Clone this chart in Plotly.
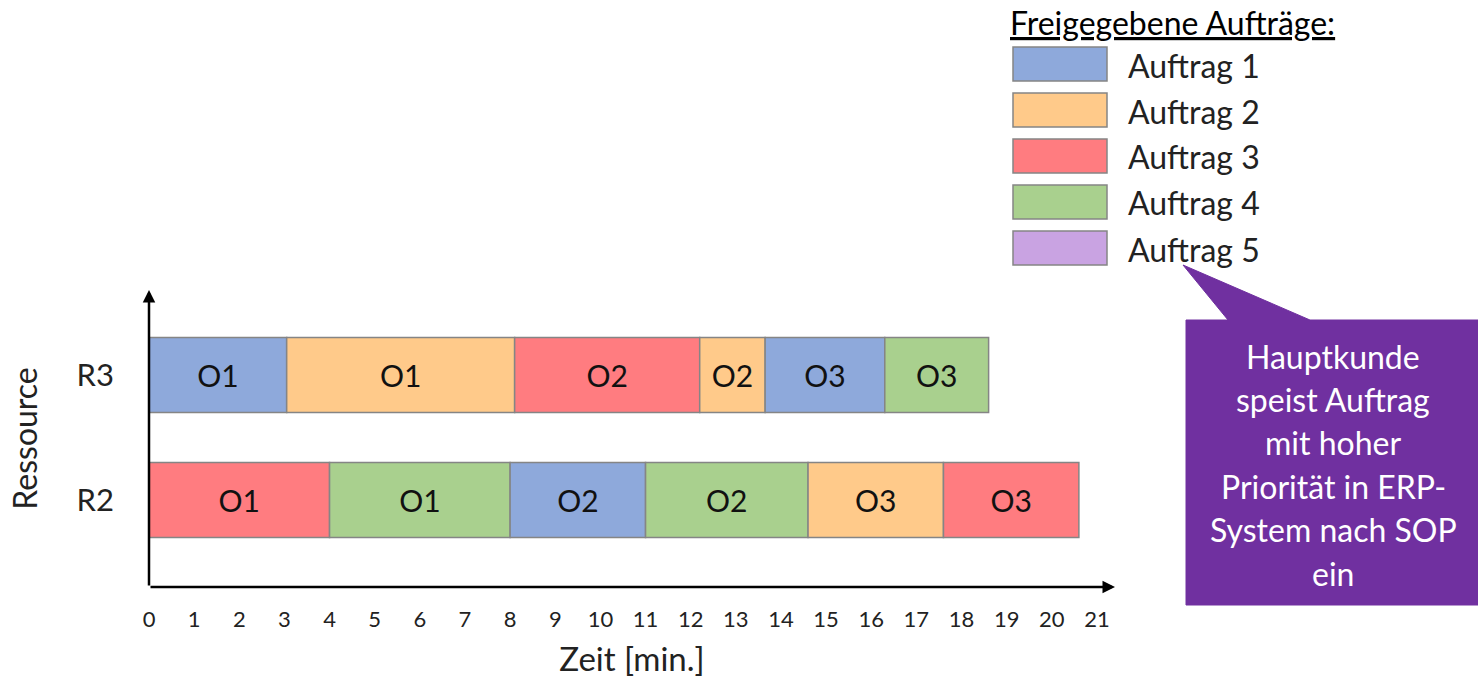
import plotly.graph_objects as go

# ---- data -----------------------------------------------------------------
orders = ["Auftrag 1", "Auftrag 2", "Auftrag 3", "Auftrag 4", "Auftrag 5"]
order_colors = ["#8EA9DB", "#FFCA8A", "#FF7C80", "#A9D08E", "#C9A3E2"]

# schedule per resource: (order index, operation label, start [min], end [min])
r3_order = [0, 1, 2, 1, 0, 3]
r3_ops = ["O1", "O1", "O2", "O2", "O3", "O3"]
r3_start = [0, 3.05, 8.1, 12.2, 13.65, 16.3]
r3_end = [3.05, 8.1, 12.2, 13.65, 16.3, 18.6]

r2_order = [2, 3, 0, 3, 1, 2]
r2_ops = ["O1", "O1", "O2", "O2", "O3", "O3"]
r2_start = [0, 4, 8, 11, 14.6, 17.6]
r2_end = [4, 8, 11, 14.6, 17.6, 20.6]

resources = ["R2", "R3"]
time_ticks = list(range(0, 22))

legend_title = "Freigegebene Aufträge:"
callout_lines = ["Hauptkunde", "speist Auftrag", "mit hoher",
                 "Priorität in ERP-", "System nach SOP", "ein"]

# ---- layout geometry (pixels) ---------------------------------------------
W, H = 1478, 679
PL, PR, PT, PB = 149, 1115, 290, 587  # plot area edges
FONT = "Lato, 'Open Sans', sans-serif"


def px_x(p):
    return (p - PL) / (PR - PL)


def px_y(p):
    return (PB - p) / (PB - PT)


fig = go.Figure()

segments = []
for res, ords, ops, st, en in [("R3", r3_order, r3_ops, r3_start, r3_end),
                               ("R2", r2_order, r2_ops, r2_start, r2_end)]:
    for o, op, s, e in zip(ords, ops, st, en):
        segments.append((res, o, op, s, e))

for res, o, op, s, e in segments:
    fig.add_trace(go.Bar(
        y=[res], x=[e - s], base=[s], orientation="h", width=0.6,
        marker=dict(color=order_colors[o], line=dict(color="#858585", width=1.5)),
        text=[op], textposition="inside", insidetextanchor="middle",
        textfont=dict(size=30, color="#111111", family=FONT),
        constraintext="none", showlegend=False, hoverinfo="skip",
    ))

x_max = 21.4
y_lo, y_hi = -0.696, 1.68

# axis arrows
fig.add_annotation(x=x_max, y=y_lo, ax=0, ay=y_lo, xref="x", yref="y",
                   axref="x", ayref="y", text="", showarrow=True,
                   arrowhead=2, arrowsize=1, arrowwidth=2.5, arrowcolor="black")
fig.add_annotation(x=0, y=y_hi, ax=0, ay=y_lo, xref="x", yref="y",
                   axref="x", ayref="y", text="", showarrow=True,
                   arrowhead=2, arrowsize=1, arrowwidth=2.5, arrowcolor="black")

# legend block
fig.add_annotation(x=px_x(1008), y=px_y(22), xref="paper", yref="paper",
                   text="<u>" + legend_title + "</u>", showarrow=False,
                   xanchor="left", yanchor="middle",
                   font=dict(size=32, color="black", family=FONT))
for i, (name, col) in enumerate(zip(orders, order_colors)):
    top = 47 + i * 46
    fig.add_shape(type="rect", xref="paper", yref="paper",
                  x0=px_x(1013), x1=px_x(1107), y0=px_y(top + 34), y1=px_y(top),
                  fillcolor=col, line=dict(color="#858585", width=1.5))
    fig.add_annotation(x=px_x(1126), y=px_y(top + 18), xref="paper", yref="paper",
                       text=name, showarrow=False, xanchor="left", yanchor="middle",
                       font=dict(size=32, color="#222222", family=FONT))

# callout bubble
bx0, bx1, by0, by1 = 1186, 1478, 320, 605
path = (f"M {px_x(bx0)},{px_y(by0)} L {px_x(1228)},{px_y(by0)} "
        f"L {px_x(1183)},{px_y(265)} L {px_x(1310)},{px_y(by0)} "
        f"L {px_x(bx1)},{px_y(by0)} L {px_x(bx1)},{px_y(by1)} "
        f"L {px_x(bx0)},{px_y(by1)} Z")
fig.add_shape(type="path", xref="paper", yref="paper", path=path,
              fillcolor="#7030A0", line=dict(color="#7030A0", width=1))
for i, line in enumerate(callout_lines):
    fig.add_annotation(x=px_x(1333), y=px_y(356 + i * 43.4), xref="paper",
                       yref="paper", text=line, showarrow=False,
                       xanchor="center", yanchor="middle",
                       font=dict(size=32, color="white", family=FONT))

fig.update_layout(
    width=W, height=H,
    margin=dict(l=PL, r=W - PR, t=PT, b=H - PB, autoexpand=False),
    paper_bgcolor="white", plot_bgcolor="white",
    barmode="overlay",
    xaxis=dict(range=[0, x_max], tickvals=time_ticks, ticktext=[str(t) for t in time_ticks],
               showgrid=False, zeroline=False, showline=False, ticks="",
               ticklabelstandoff=17,
               tickfont=dict(size=22, color="#222222", family=FONT),
               title=dict(text="Zeit [min.]", standoff=16,
                          font=dict(size=33, color="#222222", family=FONT))),
    yaxis=dict(type="category", categoryorder="array", categoryarray=resources,
               range=[y_lo, y_hi], showgrid=False, zeroline=False, showline=False,
               ticks="", ticklabelstandoff=34,
               tickfont=dict(size=31, color="#222222", family=FONT),
               title=dict(text="Ressource", standoff=29,
                          font=dict(size=32, color="#222222", family=FONT))),
    showlegend=False,
)

fig.write_html("out.html")
